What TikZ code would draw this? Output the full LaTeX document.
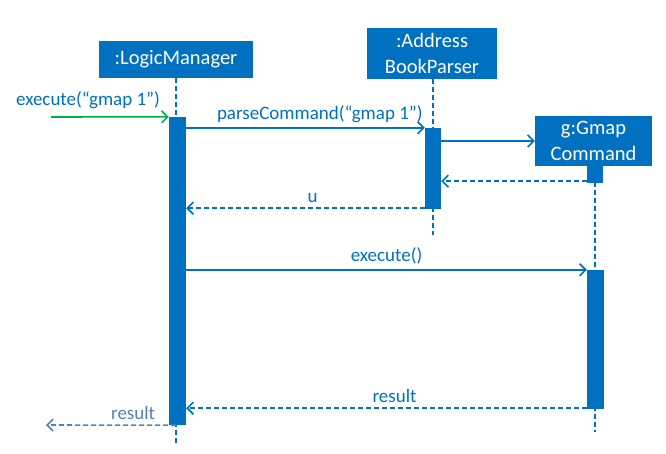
\documentclass[tikz,border=0pt]{standalone}
\usepackage{fontspec}
\setmainfont{Carlito}
\usetikzlibrary{arrows.meta,positioning}
\definecolor{umlblue}{HTML}{0070C0}
\definecolor{umlgreen}{HTML}{00B050}
\definecolor{callerblue}{HTML}{4F81BD}
\begin{document}
\begin{tikzpicture}[
  x=1pt, y=-1pt,
  objbox/.style={fill=umlblue, text=white, align=center, inner sep=0pt,
    font=\fontsize{20.5}{26}\selectfont},
  actbar/.style={fill=umlblue, inner sep=0pt, minimum width=17pt},
  lifeline/.style={umlblue, line width=1.5pt, dash pattern=on 5pt off 3pt},
  call/.style={-{Straight Barb[length=6pt,width=12pt]}, umlblue, line width=1.6pt},
  reply/.style={call, dash pattern=on 5pt off 3pt},
  lbl/.style={text=umlblue, font=\fontsize{19}{22}\selectfont, inner sep=4.5pt}
]
\useasboundingbox (0,0) rectangle (666,453);

% objects
\node[objbox, minimum width=154pt, minimum height=37pt] (logic) at (176,59.5) {:LogicManager};
\node[objbox, minimum width=130pt, minimum height=51pt] (parser) at (432,53.5) {:Address\\BookParser};
\node[objbox, minimum width=117pt, minimum height=50pt] (gmap) at (593.5,141) {g:Gmap\\Command};

% lifelines
\coordinate (logicend) at (176,445);
\coordinate (parserend) at (433,235);
\coordinate (gmapend) at (595,432);
\draw[lifeline] (logic.south) -- (logicend);
\draw[lifeline] (parser.south -| parserend) -- (parserend);
\draw[lifeline] (gmap.south -| gmapend) -- (gmapend);

% activation bars
\node[actbar, minimum height=308pt] (logicbar) at (177.5,271) {};
\node[actbar, minimum width=16pt, minimum height=81pt] (parserbar) at (433,168.5) {};
\node[actbar, minimum width=16pt, minimum height=17pt] (gmapbar1) at (595,174.5) {};
\node[actbar, minimum height=139pt] (gmapbar2) at (595.5,339.5) {};

% messages
\coordinate (caller) at (51,117);
\coordinate (callerend) at (46,425);
\draw[call, umlgreen] (caller) -- (logicbar.north west);
\node[lbl] (execlbl) at (88,100) {execute(“gmap 1”)};

\draw[call] (logicbar.east |- parserbar.north) -- node[lbl, above, pos=0.56] {parseCommand(“gmap 1”)} (parserbar.north west);
\draw[call] (parserbar.east |- gmap.west) -- (gmap.west);
\draw[reply] ([yshift=2pt]gmapbar1.south west) -- ([yshift=2pt]parserbar.east |- gmapbar1.south);
\draw[reply] ([yshift=1pt]parserbar.south west) -- node[lbl, above, pos=0.47] {u} ([yshift=1pt]logicbar.east |- parserbar.south);

\draw[call] (logicbar.east |- gmapbar2.north) -- node[lbl, above] {execute()} (gmapbar2.north west);
\draw[reply] ([yshift=1pt]gmapbar2.south west) -- node[lbl, above, pos=0.48] {result} ([yshift=1pt]logicbar.east |- gmapbar2.south);

\draw[reply, callerblue] (logicbar.south -| logicend) -- node[lbl, text=callerblue, above, pos=0.33] {result} (callerend);
\end{tikzpicture}
\end{document}
